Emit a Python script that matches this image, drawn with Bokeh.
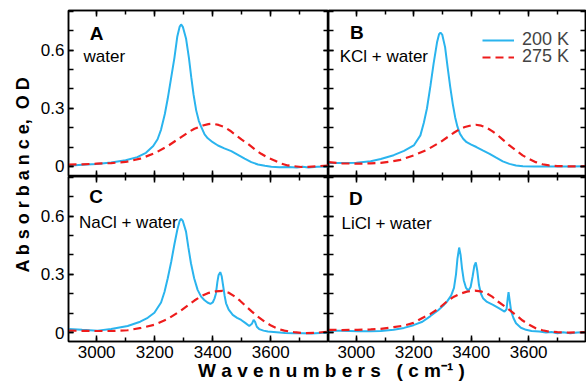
import math
from bokeh.plotting import figure
from bokeh.models import (Range1d, LinearAxis, SingleIntervalTicker, Label,
                          Legend, LegendItem, CustomJSTickFormatter, CustomLabelingPolicy)
from bokeh.layouts import row, column
from bokeh.embed import file_html
from bokeh.resources import INLINE

# ---------------- data ----------------
wn_A_200 = [2903, 2950, 3000, 3050, 3100, 3140, 3170, 3195, 3210, 3222, 3235, 3245, 3256, 3268,
            3278, 3286, 3291, 3297, 3308, 3318, 3326, 3334, 3343, 3352, 3360, 3372, 3383, 3400,
            3418, 3440, 3464, 3487, 3510, 3533, 3556, 3580, 3602, 3630, 3660, 3690, 3710, 3730,
            3760, 3800]
ab_A_200 = [0.003, 0.008, 0.012, 0.020, 0.032, 0.048, 0.070, 0.105, 0.140, 0.190, 0.270, 0.350,
            0.450, 0.560, 0.670, 0.720, 0.732, 0.720, 0.660, 0.560, 0.460, 0.370, 0.289, 0.235,
            0.205, 0.165, 0.145, 0.125, 0.108, 0.093, 0.079, 0.060, 0.040, 0.022, 0.010, 0.003,
            -0.002, -0.004, -0.003, -0.005, -0.002, -0.006, -0.002, 0.000]
wn_A_275 = [2903, 2950, 3000, 3050, 3100, 3150, 3200, 3245, 3290, 3320, 3337, 3366, 3385, 3400,
            3420, 3440, 3460, 3481, 3500, 3521, 3545, 3567, 3590, 3613, 3635, 3659, 3680, 3705,
            3730, 3760, 3800]
ab_A_275 = [0.009, 0.011, 0.014, 0.017, 0.023, 0.040, 0.068, 0.105, 0.150, 0.180, 0.194, 0.211,
            0.218, 0.220, 0.214, 0.203, 0.184, 0.160, 0.138, 0.117, 0.088, 0.065, 0.045, 0.031,
            0.015, 0.005, 0.001, -0.003, -0.002, 0.001, 0.005]

wn_B_200 = [2903, 2950, 3000, 3050, 3085, 3130, 3166, 3200, 3223, 3235, 3246, 3258, 3269, 3281,
            3288, 3293, 3299, 3309, 3318, 3327, 3336, 3344, 3352, 3361, 3372, 3384, 3400, 3418,
            3440, 3464, 3487, 3510, 3533, 3556, 3580, 3620, 3680, 3740, 3798]
ab_B_200 = [0.017, 0.018, 0.019, 0.027, 0.038, 0.058, 0.080, 0.108, 0.160, 0.225, 0.300, 0.415,
            0.530, 0.640, 0.682, 0.690, 0.680, 0.615, 0.510, 0.409, 0.320, 0.254, 0.205, 0.168,
            0.143, 0.125, 0.112, 0.100, 0.083, 0.065, 0.045, 0.026, 0.013, 0.005, 0.001, 0.000,
            0.000, 0.000, 0.001]
wn_B_275 = [2903, 2950, 3000, 3050, 3085, 3120, 3154, 3200, 3246, 3292, 3338, 3360, 3378, 3400,
            3416, 3435, 3453, 3473, 3493, 3513, 3533, 3556, 3579, 3602, 3625, 3648, 3671, 3700,
            3740, 3798]
ab_B_275 = [0.022, 0.016, 0.014, 0.016, 0.018, 0.025, 0.034, 0.057, 0.086, 0.125, 0.172, 0.192,
            0.203, 0.212, 0.215, 0.210, 0.200, 0.182, 0.160, 0.134, 0.108, 0.082, 0.057, 0.038,
            0.022, 0.011, 0.005, 0.002, 0.000, 0.001]

wn_C_200 = [2903, 2950, 3003, 3050, 3107, 3150, 3176, 3199, 3222, 3234, 3245, 3257, 3268, 3278,
            3286, 3291, 3297, 3308, 3316, 3325, 3336, 3348, 3360, 3371, 3382, 3392, 3400, 3406,
            3411, 3416, 3420, 3426, 3431, 3436, 3441, 3446, 3455, 3469, 3484, 3498, 3512, 3526,
            3535, 3541, 3546, 3552, 3560, 3575, 3590, 3620, 3650, 3680, 3710, 3740, 3770, 3800]
ab_C_200 = [0.019, 0.014, 0.010, 0.018, 0.034, 0.056, 0.076, 0.102, 0.155, 0.210, 0.280, 0.365,
            0.455, 0.530, 0.575, 0.586, 0.575, 0.520, 0.440, 0.357, 0.280, 0.220, 0.185, 0.168,
            0.155, 0.148, 0.155, 0.175, 0.200, 0.260, 0.295, 0.311, 0.290, 0.240, 0.190, 0.151,
            0.118, 0.091, 0.076, 0.065, 0.050, 0.034, 0.045, 0.065, 0.055, 0.030, 0.018, 0.010,
            0.005, 0.002, -0.002, -0.004, -0.003, -0.005, -0.002, 0.000]
wn_C_275 = [2903, 2950, 3003, 3050, 3107, 3153, 3199, 3245, 3291, 3337, 3360, 3383, 3410, 3434,
            3455, 3474, 3495, 3515, 3535, 3555, 3578, 3601, 3624, 3647, 3680, 3716, 3750, 3800]
ab_C_275 = [0.010, 0.009, 0.008, 0.008, 0.012, 0.024, 0.040, 0.070, 0.114, 0.165, 0.187, 0.203,
            0.212, 0.215, 0.205, 0.188, 0.163, 0.135, 0.108, 0.082, 0.057, 0.036, 0.020, 0.010,
            0.002, -0.003, -0.002, 0.005]

wn_D_200 = [2903, 2950, 3005, 3050, 3085, 3130, 3166, 3199, 3230, 3258, 3285, 3303, 3315, 3330,
            3340, 3347, 3352, 3358, 3363, 3368, 3374, 3382, 3390, 3398, 3405, 3411, 3416, 3421,
            3427, 3434, 3441, 3455, 3476, 3496, 3516, 3523, 3527, 3530, 3534, 3539, 3547, 3556,
            3573, 3591, 3610, 3637, 3660, 3680, 3700, 3720, 3745, 3770, 3798]
ab_D_200 = [0.010, 0.009, 0.007, 0.007, 0.008, 0.015, 0.024, 0.038, 0.056, 0.085, 0.115, 0.139,
            0.158, 0.190, 0.230, 0.300, 0.380, 0.438, 0.400, 0.330, 0.270, 0.230, 0.216, 0.235,
            0.290, 0.345, 0.361, 0.320, 0.245, 0.200, 0.177, 0.158, 0.143, 0.126, 0.108, 0.120,
            0.175, 0.208, 0.165, 0.110, 0.075, 0.048, 0.025, 0.014, 0.008, 0.005, 0.000, 0.003,
            -0.003, 0.002, -0.004, 0.000, 0.002]
wn_D_275 = [2903, 2950, 3005, 3050, 3085, 3130, 3166, 3199, 3230, 3258, 3285, 3315, 3340, 3361,
            3385, 3413, 3433, 3453, 3473, 3493, 3513, 3533, 3556, 3579, 3602, 3625, 3648, 3671,
            3700, 3740, 3798]
ab_D_275 = [0.014, 0.013, 0.014, 0.016, 0.019, 0.028, 0.036, 0.050, 0.075, 0.096, 0.122, 0.160,
            0.185, 0.200, 0.211, 0.216, 0.212, 0.203, 0.185, 0.160, 0.139, 0.117, 0.090, 0.062,
            0.040, 0.022, 0.012, 0.005, 0.002, 0.000, 0.002]

panel_letters = ["A", "B", "C", "D"]
panel_names = ["water", "KCl + water", "NaCl + water", "LiCl + water"]
series_labels = ["200 K", "275 K"]
x_label = "W a v e n u m b e r s \u00a0\u00a0( c m\u207b\u00b9 )"
y_label = "A b s o r b a n c e,\u00a0 O D"

# ---------------- style ----------------
BLUE = "#2AB4EE"
RED = "#EE1C1C"
FONT = "Liberation Sans"
TICK_FS = "17px"
LW = 1.5

HIDE = CustomLabelingPolicy(code="""
const all = Array.from(indices)
for (const i of all) indices.unset(i)
return indices
""")


def style_axis(ax, labeled, is_x):
    ax.axis_line_color = "black"
    ax.axis_line_width = LW
    ax.major_tick_line_color = "black"
    ax.minor_tick_line_color = "black"
    ax.major_tick_line_width = LW
    ax.minor_tick_line_width = LW
    ax.major_tick_out = 0
    ax.minor_tick_out = 0
    if is_x:
        ax.major_tick_in = 6
        ax.minor_tick_in = 4
    else:
        ax.major_tick_in = 5
        ax.minor_tick_in = 5
    if labeled:
        ax.major_label_text_font = FONT
        ax.major_label_text_font_size = TICK_FS
        ax.major_label_text_color = "black"
        ax.major_label_standoff = 4
    else:
        ax.major_label_text_font_size = "0px"
        ax.major_label_standoff = 0
        ax.major_label_policy = HIDE


def make_panel(width, height, xr, bl, br, bt, bb, show_x, show_y, yr):
    p = figure(width=width, height=height, x_range=Range1d(*xr), y_range=Range1d(*yr),
               x_axis_type=None, y_axis_type=None, output_backend="svg",
               toolbar_location=None, min_border_left=bl, min_border_right=br,
               min_border_top=bt, min_border_bottom=bb)
    p.outline_line_color = "black"
    p.outline_line_width = LW
    p.background_fill_color = "white"
    p.border_fill_color = "white"
    for side in ("below", "above"):
        ax = LinearAxis(ticker=SingleIntervalTicker(interval=200, num_minor_ticks=2))
        style_axis(ax, show_x and side == "below", True)
        p.add_layout(ax, side)
    for side in ("left", "right"):
        ax = LinearAxis(ticker=SingleIntervalTicker(interval=0.3, num_minor_ticks=3))
        lab = show_y and side == "left"
        style_axis(ax, lab, False)
        if lab:
            ax.formatter = CustomJSTickFormatter(code="return (Math.round(tick*10)/10).toString();")
        p.add_layout(ax, side)
    return p


def add_curves(p, wb, ab, wr, ar):
    rb = p.line(wb, ab, line_color=BLUE, line_width=2)
    rr = p.line(wr, ar, line_color=RED, line_width=2.2, line_dash="8 5")
    return rb, rr


def add_texts(p, letter, name, lx, ly, nx, ny):
    p.add_layout(Label(x=lx, y=ly, text=letter, text_font=FONT, text_font_style="bold",
                       text_font_size="19px", text_align="center", text_baseline="alphabetic",
                       text_color="black"))
    p.add_layout(Label(x=nx, y=ny, text=name, text_font=FONT, text_font_size="17px",
                       text_align="left", text_baseline="alphabetic", text_color="black"))


XL = (2903, 3799)
XR = (2903, 3798)
YT = (-0.052, 0.804)
YB = (-0.046, 0.804)

pA = make_panel(292, 176, XL, 32, 0, 10, 0, False, True, YT)
pB = make_panel(258, 176, XR, 0, 1, 10, 0, False, False, YT)
pC = make_panel(292, 189, XL, 32, 0, 0, 24, True, True, YB)
pD = make_panel(258, 189, XR, 0, 1, 0, 24, True, False, YB)

add_curves(pA, wn_A_200, ab_A_200, wn_A_275, ab_A_275)
rb, rr = add_curves(pB, wn_B_200, ab_B_200, wn_B_275, ab_B_275)
add_curves(pC, wn_C_200, ab_C_200, wn_C_275, ab_C_275)
add_curves(pD, wn_D_200, ab_D_200, wn_D_275, ab_D_275)

add_texts(pA, panel_letters[0], panel_names[0], 3000, 0.686, 2955, 0.566)
add_texts(pB, panel_letters[1], panel_names[1], 3002, 0.690, 2942, 0.569)
add_texts(pC, panel_letters[2], panel_names[2], 2998, 0.700, 2939, 0.565)
add_texts(pD, panel_letters[3], panel_names[3], 2998, 0.692, 2948, 0.560)


def legend_one(label, renderer, vy):
    return Legend(items=[LegendItem(label=label, renderers=[renderer])],
                  location=(154, vy), background_fill_alpha=0, border_line_color=None,
                  label_text_font=FONT, label_text_font_size="18px", glyph_width=32,
                  glyph_height=16, label_height=16, spacing=0, padding=0, margin=0,
                  label_standoff=8)


pB.add_layout(legend_one(series_labels[0], rb, 126))
pB.add_layout(legend_one(series_labels[1], rr, 109))

# outer axis titles
ylab = figure(width=36, height=365, x_range=Range1d(0, 36), y_range=Range1d(0, 365),
              x_axis_type=None, y_axis_type=None, output_backend="svg", toolbar_location=None,
              min_border=0, outline_line_color=None)
ylab.add_layout(Label(x=22.5, y=365 - 174, text=y_label, angle=math.pi / 2, text_font=FONT,
                      text_font_style="bold", text_font_size="18px", text_align="center",
                      text_baseline="middle", text_color="black"))

xlab = figure(width=586, height=32, x_range=Range1d(0, 586), y_range=Range1d(0, 32),
              x_axis_type=None, y_axis_type=None, output_backend="svg", toolbar_location=None,
              min_border=0, outline_line_color=None, margin=(-6, 0, 0, 0))
xlab.background_fill_alpha = 0
xlab.border_fill_alpha = 0
xlab.add_layout(Label(x=331, y=21, text=x_label, text_font=FONT, text_font_style="bold",
                      text_font_size="19px", text_align="center", text_baseline="alphabetic",
                      text_color="black"))

layout = column(row(ylab, column(row(pA, pB), row(pC, pD))), xlab)

open("out.html", "w").write(file_html(layout, INLINE))
